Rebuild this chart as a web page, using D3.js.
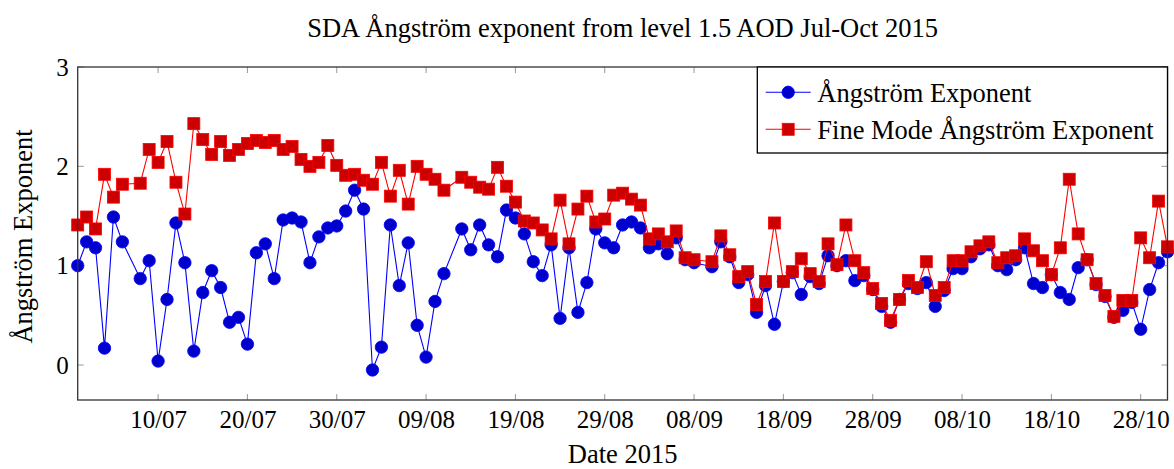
<!DOCTYPE html>
<html>
<head>
<meta charset="utf-8">
<script src="https://cdnjs.cloudflare.com/ajax/libs/d3/7.8.5/d3.min.js"></script>
<style>
  body { margin: 0; background: #fff; }
  text { font-family: "Liberation Serif", "Times New Roman", serif; fill: #000; }
</style>
</head>
<body>
<div id="chart"></div>
<script>
// Daily dates (Jul 7, Aug 12 and Sep 9 are missing)
const dates = [
  "2015-07-01","2015-07-02","2015-07-03","2015-07-04","2015-07-05","2015-07-06","2015-07-08","2015-07-09","2015-07-10",
  "2015-07-11","2015-07-12","2015-07-13","2015-07-14","2015-07-15","2015-07-16","2015-07-17","2015-07-18","2015-07-19",
  "2015-07-20","2015-07-21","2015-07-22","2015-07-23","2015-07-24","2015-07-25","2015-07-26","2015-07-27","2015-07-28",
  "2015-07-29","2015-07-30","2015-07-31",
  "2015-08-01","2015-08-02","2015-08-03","2015-08-04","2015-08-05","2015-08-06","2015-08-07","2015-08-08","2015-08-09",
  "2015-08-10","2015-08-11","2015-08-13","2015-08-14","2015-08-15","2015-08-16","2015-08-17","2015-08-18","2015-08-19",
  "2015-08-20","2015-08-21","2015-08-22","2015-08-23","2015-08-24","2015-08-25","2015-08-26","2015-08-27","2015-08-28",
  "2015-08-29","2015-08-30","2015-08-31",
  "2015-09-01","2015-09-02","2015-09-03","2015-09-04","2015-09-05","2015-09-06","2015-09-07","2015-09-08","2015-09-10",
  "2015-09-11","2015-09-12","2015-09-13","2015-09-14","2015-09-15","2015-09-16","2015-09-17","2015-09-18","2015-09-19",
  "2015-09-20","2015-09-21","2015-09-22","2015-09-23","2015-09-24","2015-09-25","2015-09-26","2015-09-27","2015-09-28",
  "2015-09-29","2015-09-30",
  "2015-10-01","2015-10-02","2015-10-03","2015-10-04","2015-10-05","2015-10-06","2015-10-07","2015-10-08","2015-10-09",
  "2015-10-10","2015-10-11","2015-10-12","2015-10-13","2015-10-14","2015-10-15","2015-10-16","2015-10-17","2015-10-18",
  "2015-10-19","2015-10-20","2015-10-21","2015-10-22","2015-10-23","2015-10-24","2015-10-25","2015-10-26","2015-10-27",
  "2015-10-28","2015-10-29","2015-10-30","2015-10-31"
];

// Ångström exponent
const angstrom = [
  1.00,1.24,1.18,0.17,1.49,1.24,0.87,1.05,0.04,
  0.66,1.43,1.03,0.14,0.73,0.95,0.78,0.43,0.48,
  0.21,1.13,1.22,0.87,1.46,1.48,1.44,1.03,1.29,
  1.38,1.40,1.55,
  1.76,1.57,-0.05,0.18,1.41,0.80,1.23,0.40,0.08,
  0.64,0.92,1.37,1.16,1.41,1.21,1.09,1.56,1.48,
  1.32,1.04,0.90,1.21,0.47,1.18,0.53,0.83,1.37,
  1.23,1.18,1.41,
  1.44,1.38,1.18,1.22,1.12,1.28,1.06,1.03,0.99,
  1.24,1.09,0.83,0.91,0.53,0.80,0.41,0.84,0.93,
  0.71,0.89,0.82,1.10,1.00,1.05,0.85,0.90,0.76,
  0.59,0.43,
  0.66,0.82,0.77,0.83,0.59,0.75,0.97,0.97,1.09,
  1.17,1.21,1.00,0.96,1.06,1.18,0.82,0.78,0.91,
  0.73,0.66,0.98,1.06,0.81,0.69,0.48,0.55,0.63,
  0.36,0.76,1.03,1.14
];

// Fine mode Ångström exponent
const fineMode = [
  1.41,1.49,1.37,1.92,1.69,1.82,1.83,2.17,2.04,
  2.25,1.84,1.52,2.43,2.27,2.12,2.25,2.11,2.17,
  2.23,2.26,2.24,2.26,2.17,2.20,2.07,2.00,2.04,
  2.21,2.01,1.91,
  1.92,1.86,1.82,2.04,1.70,1.96,1.62,2.00,1.92,
  1.87,1.76,1.89,1.84,1.79,1.77,1.99,1.80,1.64,
  1.45,1.43,1.36,1.27,1.66,1.22,1.57,1.70,1.44,
  1.47,1.71,1.73,
  1.67,1.61,1.27,1.32,1.24,1.35,1.08,1.06,1.04,
  1.30,1.11,0.89,0.94,0.61,0.84,1.43,0.84,0.94,
  1.07,0.92,0.84,1.22,1.01,1.41,1.05,0.93,0.77,
  0.62,0.45,
  0.66,0.85,0.78,1.04,0.70,0.78,1.05,1.05,1.14,
  1.20,1.24,1.03,1.08,1.10,1.27,1.15,1.05,0.91,
  1.18,1.87,1.32,1.06,0.82,0.70,0.49,0.65,0.65,
  1.28,1.08,1.65,1.19
];

const xTicks = ["2015-07-10","2015-07-20","2015-07-30","2015-08-09","2015-08-19","2015-08-29",
                "2015-09-08","2015-09-18","2015-09-28","2015-10-08","2015-10-18","2015-10-28"];
const yTicks = [0, 1, 2, 3];

const W = 1174, H = 469;
const margin = {top: 67, right: 6.5, bottom: 69, left: 77.7};
const width = W - margin.left - margin.right,
      height = H - margin.top - margin.bottom;

const parse = d3.utcParse("%Y-%m-%d");
const fmt = d3.utcFormat("%d/%m");

const data = dates.map((d, i) => ({date: parse(d), a: angstrom[i], f: fineMode[i]}));

const svg = d3.select("#chart").append("svg")
    .attr("width", W).attr("height", H);
const g = svg.append("g").attr("transform", `translate(${margin.left},${margin.top})`);

const x = d3.scaleUtc()
    .domain([parse("2015-07-01"), parse("2015-10-31")])
    .range([0, width]);
const y = d3.scaleLinear()
    .domain([-0.352, 3])
    .range([height, 0]);

// ticks inside on all four sides, grey like pgfplots
const tickLen = 6;
const tickColor = "#999";
const tg = g.append("g");
xTicks.forEach(t => {
  const px = x(parse(t));
  tg.append("line").attr("x1", px).attr("x2", px).attr("y1", height).attr("y2", height - tickLen);
  tg.append("line").attr("x1", px).attr("x2", px).attr("y1", 0).attr("y2", tickLen);
});
yTicks.forEach(t => {
  const py = y(t);
  tg.append("line").attr("x1", 0).attr("x2", tickLen).attr("y1", py).attr("y2", py);
  tg.append("line").attr("x1", width).attr("x2", width - tickLen).attr("y1", py).attr("y2", py);
});
tg.selectAll("line").attr("stroke", tickColor).attr("stroke-width", 1);

// Axis labels via d3 axes (no domain, no tick lines)
const xAxis = g.append("g")
    .attr("transform", `translate(0,${height})`)
    .call(d3.axisBottom(x).tickValues(xTicks.map(parse)).tickFormat(fmt).tickSize(0).tickPadding(10));
xAxis.select(".domain").remove();
xAxis.selectAll("text").attr("dy", "0.71em").style("font-size", "25px")
    .style("font-family", "'Liberation Serif', serif");

const yAxis = g.append("g")
    .call(d3.axisLeft(y).tickValues(yTicks).tickFormat(d3.format("d")).tickSize(0).tickPadding(9));
yAxis.select(".domain").remove();
yAxis.selectAll("text").style("font-size", "25px")
    .style("font-family", "'Liberation Serif', serif");

// Lines
const lineA = d3.line().x(d => x(d.date)).y(d => y(d.a));
const lineF = d3.line().x(d => x(d.date)).y(d => y(d.f));

const plot = g.append("g");
plot.append("path").datum(data).attr("d", lineA)
    .attr("fill", "none").attr("stroke", "#0000ff").attr("stroke-width", 1.1);
plot.selectAll("circle.a").data(data).enter().append("circle")
    .attr("class", "a")
    .attr("cx", d => x(d.date)).attr("cy", d => y(d.a)).attr("r", 6.2)
    .attr("fill", "#0000cc").attr("stroke", "#0000ff").attr("stroke-width", 0.8);

const sq = 12;
plot.append("path").datum(data).attr("d", lineF)
    .attr("fill", "none").attr("stroke", "#ff0000").attr("stroke-width", 1.1);
plot.selectAll("rect.f").data(data).enter().append("rect")
    .attr("class", "f")
    .attr("x", d => x(d.date) - sq / 2).attr("y", d => y(d.f) - sq / 2)
    .attr("width", sq).attr("height", sq)
    .attr("fill", "#cc0000").attr("stroke", "#ff0000").attr("stroke-width", 0.8);

// Frame
g.append("rect").attr("x", 0).attr("y", 0).attr("width", width).attr("height", height)
    .attr("fill", "none").attr("stroke", "#333").attr("stroke-width", 1.3);

// Legend
const lx = 757.3 - margin.left, lw = width - lx, lh = 86;
const legend = g.append("g");
legend.append("rect").attr("x", lx).attr("y", 0).attr("width", lw).attr("height", lh)
    .attr("fill", "#fff").attr("stroke", "#000").attr("stroke-width", 1.3);
const rows = [
  {label: "Ångström Exponent", line: "#0000ff", fill: "#0000cc", mark: "circle", y: 25.3},
  {label: "Fine Mode Ångström Exponent", line: "#ff0000", fill: "#cc0000", mark: "square", y: 62.3}
];
rows.forEach(r => {
  const x0 = lx + 8.4, x1 = lx + 53.4, xm = (x0 + x1) / 2;
  legend.append("line").attr("x1", x0).attr("x2", x1).attr("y1", r.y).attr("y2", r.y)
      .attr("stroke", r.line).attr("stroke-width", 1.1);
  if (r.mark === "circle") {
    legend.append("circle").attr("cx", xm).attr("cy", r.y).attr("r", 6.2)
        .attr("fill", r.fill).attr("stroke", r.line).attr("stroke-width", 0.8);
  } else {
    legend.append("rect").attr("x", xm - sq / 2).attr("y", r.y - sq / 2).attr("width", sq).attr("height", sq)
        .attr("fill", r.fill).attr("stroke", r.line).attr("stroke-width", 0.8);
  }
  legend.append("text").attr("x", lx + 60).attr("y", r.y).attr("dy", "0.35em")
      .style("font-size", "26.5px").text(r.label);
});

// Title and axis titles
svg.append("text").attr("x", margin.left + width / 2).attr("y", 37)
    .attr("text-anchor", "middle").style("font-size", "26.5px")
    .text("SDA Ångström exponent from level 1.5 AOD Jul-Oct 2015");
svg.append("text").attr("x", margin.left + width / 2).attr("y", 463)
    .attr("text-anchor", "middle").style("font-size", "26.5px")
    .text("Date 2015");
svg.append("text")
    .attr("transform", `translate(32,${margin.top + height / 2 + 3}) rotate(-90)`)
    .attr("text-anchor", "middle").style("font-size", "26.5px")
    .text("Ångström Exponent");
</script>
</body>
</html>
